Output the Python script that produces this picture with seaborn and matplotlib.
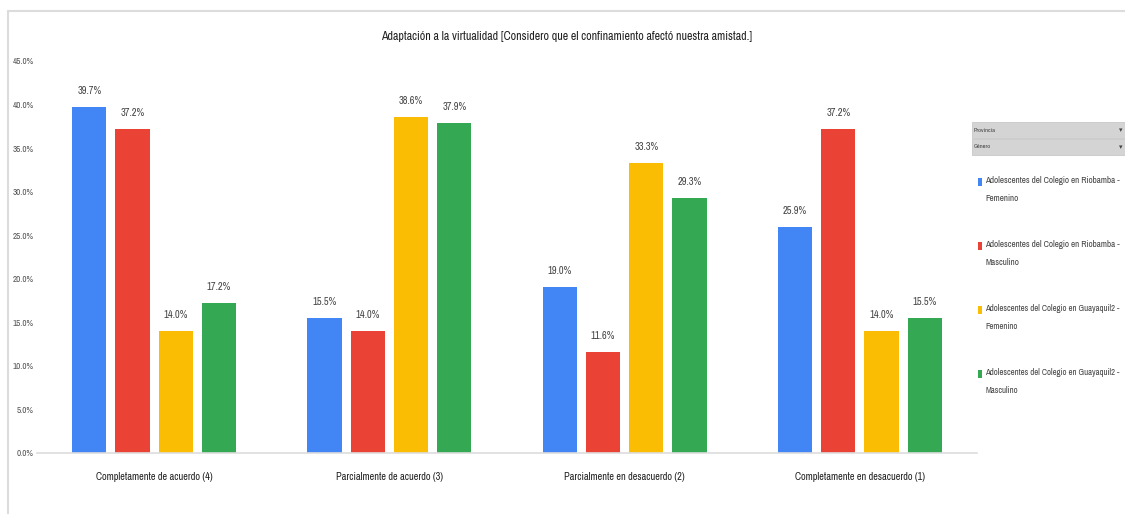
import numpy as np
import pandas as pd
import seaborn as sns
import matplotlib.pyplot as plt
from matplotlib import font_manager
from matplotlib.patches import Rectangle

categories = ['Completamente de acuerdo (4)', 'Parcialmente de acuerdo (3)',
              'Parcialmente en desacuerdo (2)', 'Completamente en desacuerdo (1)']
series = ['Adolescentes del Colegio en Riobamba -\nFemenino',
          'Adolescentes del Colegio en Riobamba -\nMasculino',
          'Adolescentes del Colegio en Guayaquil2 -\nFemenino',
          'Adolescentes del Colegio en Guayaquil2 -\nMasculino']
riobamba_fem = [39.7, 15.5, 19.0, 25.9]
riobamba_masc = [37.2, 14.0, 11.6, 37.2]
guayaquil_fem = [14.0, 38.6, 33.3, 14.0]
guayaquil_masc = [17.2, 37.9, 29.3, 15.5]
colors = ['#4285F4', '#EA4335', '#FBBC04', '#34A853']

rows = []
for s, vals in zip(series, [riobamba_fem, riobamba_masc, guayaquil_fem, guayaquil_masc]):
    for c, v in zip(categories, vals):
        rows.append({'cat': c, 'serie': s, 'val': v})
df = pd.DataFrame(rows)

sns.set_theme(style='white')
# narrow font if one is installed, otherwise shrink the sizes
fonts = font_manager.fontManager.ttflist
narrow = [f.name for f in fonts if 'Narrow' in f.name or 'Condensed' in f.name]
cond = [f.name for f in fonts if str(f.stretch) in ('condensed', 'semi-condensed', 'extra-condensed')]
if narrow:
    plt.rcParams['font.family'] = [narrow[0], 'DejaVu Sans']
    k = 1.0
elif 'DejaVu Sans' in cond:
    plt.rcParams['font.family'] = ['DejaVu Sans']
    plt.rcParams['font.stretch'] = 'condensed'
    k = 0.92
else:
    plt.rcParams['font.family'] = ['Liberation Sans', 'DejaVu Sans']
    k = 0.85

fig = plt.figure(figsize=(11.25, 5.14), dpi=100)
ax = fig.add_axes([36.5 / 1125, 1 - 453 / 514, 941 / 1125, 392 / 514])

sns.barplot(data=df, x='cat', y='val', hue='serie', palette=colors,
            width=0.735, gap=0.21, ax=ax, legend=False, saturation=1,
            linewidth=0, edgecolor='none')

for cont in ax.containers:
    ax.bar_label(cont, labels=[f'{b.get_height():.1f}%' for b in cont],
                 padding=8, fontsize=7.5 * k, color='#444444')

ax.set_ylim(0, 45)
ax.set_xlim(-0.5, 3.5)
ax.set_yticks(np.arange(0, 46, 5))
ax.set_yticklabels([f'{t:.1f}%' for t in np.arange(0, 46, 5)], fontsize=6.5 * k, color='#555555')
ax.tick_params(axis='x', labelsize=7.4 * k, labelcolor='#222222', pad=14, length=0)
ax.tick_params(axis='y', length=0, pad=2)
ax.set_xlabel('')
ax.set_ylabel('')
for sp in ['top', 'right', 'left']:
    ax.spines[sp].set_visible(False)
ax.spines['bottom'].set_color('#dddddd')
ax.spines['bottom'].set_linewidth(1.2)

fig.text(567 / 1125, 1 - 37 / 514, 'Adaptación a la virtualidad [Considero que el confinamiento afectó nuestra amistad.]',
         ha='center', va='center', fontsize=8.6 * k, color='#222222')

# page frame
fig.add_artist(plt.Line2D([8 / 1125, 1], [1 - 11 / 514] * 2, color='#dcdcdc', lw=1.5))
fig.add_artist(plt.Line2D([8 / 1125] * 2, [0, 1 - 11 / 514], color='#dcdcdc', lw=1.5))

# filter boxes
for i, lab in enumerate(['Provincia', 'Género']):
    y0 = 122 + i * 17
    fig.add_artist(Rectangle((972 / 1125, 1 - (y0 + 16) / 514), 153 / 1125, 16 / 514,
                             transform=fig.transFigure, facecolor='#d4d4d4', edgecolor='#c8c8c8', lw=0.6))
    fig.text(974 / 1125, 1 - (y0 + 8) / 514, lab, fontsize=4.5, va='center', color='#444444')
    fig.text(1121 / 1125, 1 - (y0 + 8) / 514, '▾', fontsize=5, va='center', ha='center', color='#444444')

# legend
for i, (s, c) in enumerate(zip(series, colors)):
    y = 182 + i * 64
    fig.add_artist(Rectangle((978 / 1125, 1 - (y + 4) / 514), 4 / 1125, 8 / 514,
                             transform=fig.transFigure, facecolor=c, edgecolor='none'))
    t = fig.text(985 / 1125, 1 - (y - 6) / 514, s, fontsize=7.5 * k, va='top', ha='left',
                 color='#444444', linespacing=2.3)

# shrink legend text until it fits the right margin
fig.canvas.draw()
r = fig.canvas.get_renderer()
for t in fig.texts[-4:]:
    while t.get_window_extent(r).x1 > 1122 and t.get_fontsize() > 4:
        t.set_fontsize(t.get_fontsize() - 0.2)

fig.savefig('out.png', dpi=100)
